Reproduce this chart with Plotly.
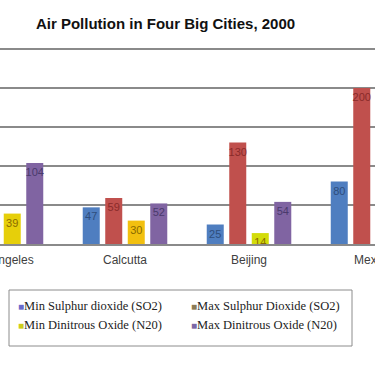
import plotly.graph_objects as go

cities = ["Los Angeles", "Calcutta", "Beijing", "Mexico"]
series_names = [
    "Min Sulphur dioxide (SO2)",
    "Max Sulphur Dioxide (SO2)",
    "Min Dinitrous Oxide (N20)",
    "Max Dinitrous Oxide (N20)",
]
min_so2 = [9, 47, 25, 80]
max_so2 = [90, 59, 130, 200]
min_n2o = [39, 30, 14, 112]
max_n2o = [104, 52, 54, 130]

bar_colors = ["#4F7EC0", "#C0504D", ["#E6CF0A", "#F2C00F", "#D3DC0A", "#EDD51A"], "#8064A2"]
text_colors = ["#2E4D7C", "#8A2B2A", "#8A6B00", "#4A3A6C"]
legend_colors = ["#6A6ACB", "#8B7B55", "#CDCD1A", "#7B67A6"]
legend_column = ["legend", "legend2", "legend", "legend2"]

values = [min_so2, max_so2, min_n2o, max_n2o]

W, H = 375, 366
T, B = 46, 122
PH = H - T - B  # plot area height in px
PX_PER_UNIT = 0.78
Y_TOP = PH / PX_PER_UNIT


def py(v):
    """pixel row -> paper y"""
    return (H - B - v) / PH


fig = go.Figure()
for name, vals, col, tcol in zip(series_names, values, bar_colors, text_colors):
    fig.add_trace(go.Bar(
        x=cities, y=vals, name=name, showlegend=False,
        marker=dict(color=col, line=dict(width=0)),
        text=vals, texttemplate="%{text}", textposition="inside",
        insidetextanchor="end", constraintext="none", textangle=0,
        textfont=dict(family="Liberation Sans, Arial", size=11, color=tcol),
        cliponaxis=False,
    ))
for name, col, lg in zip(series_names, legend_colors, legend_column):
    fig.add_trace(go.Scatter(
        x=[None], y=[None], mode="markers",
        name=f'<span style="color:{col};font-size:10px">■</span>{name}',
        marker=dict(color="rgba(0,0,0,0)", size=1), showlegend=True, legend=lg,
    ))

fig.add_shape(
    type="rect", xref="paper", yref="paper",
    x0=9 / W, x1=352 / W, y0=py(346), y1=py(290),
    line=dict(color="#8c8c8c", width=1), fillcolor="rgba(0,0,0,0)", layer="below",
)

legend_style = dict(
    orientation="v", xanchor="left", yanchor="top", y=py(290),
    borderwidth=0, bgcolor="rgba(0,0,0,0)", itemwidth=30,
    font=dict(family="Liberation Serif, Times New Roman", size=12.5, color="#222222"),
    traceorder="normal",
)

fig.update_layout(
    width=W, height=H,
    margin=dict(l=0, r=0, t=T, b=B, autoexpand=False),
    paper_bgcolor="white", plot_bgcolor="white",
    barmode="group", bargap=0.274, bargroupgap=0.244,
    title=dict(
        text="<b>Air Pollution in Four Big Cities, 2000</b>",
        font=dict(family="Liberation Sans, Arial", size=15, color="#111111"),
        x=165.5 / W, xanchor="center", y=1 - 24 / H, yanchor="middle",
    ),
    xaxis=dict(
        type="category", range=[-0.008, 3.016], automargin=False,
        showgrid=False, showline=True, linecolor="#8a8a8a", linewidth=1.5,
        ticks="outside", ticklen=4, tickcolor="rgba(0,0,0,0)",
        tickfont=dict(family="Liberation Sans, Arial", size=12, color="#404040"),
    ),
    yaxis=dict(
        range=[0, Y_TOP], dtick=50, showticklabels=False, automargin=False,
        showgrid=True, gridcolor="#8a8a8a", gridwidth=1.5, zeroline=False,
    ),
    legend=dict(x=-22 / W, **legend_style),
    legend2=dict(x=151 / W, **legend_style),
)

fig.write_html(
    "out.html",
    config={"displayModeBar": False},
    post_script="document.body.style.margin='0';",
)
